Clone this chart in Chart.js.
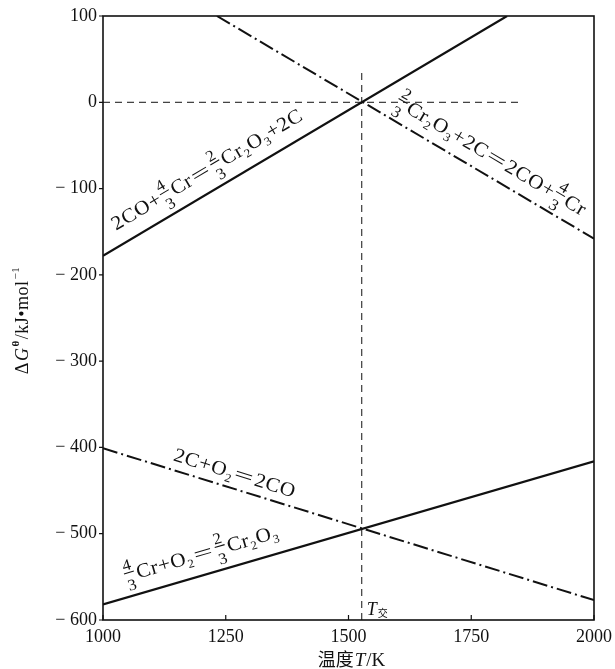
<!DOCTYPE html>
<html>
<head>
<meta charset="utf-8">
<script src="https://cdn.jsdelivr.net/npm/chart.js@4"></script>
<style>
  html, body { margin: 0; padding: 0; background: #fff; }
  canvas { display: block; }
</style>
</head>
<body>
<canvas id="gibbsChart" width="615" height="669"></canvas>
<script>
// axis ticks
const xTicks = [1000, 1250, 1500, 1750, 2000];
const yTicks = [-600, -500, -400, -300, -200, -100, 0, 100];

// 2CO + 4/3Cr = 2/3Cr2O3 + 2C
const coCrT = [1000, 1823];
const coCrG = [-178, 100];
// 2/3Cr2O3 + 2C = 2CO + 4/3Cr
const oxCT = [1232, 2000];
const oxCG = [100, -158];
// 2C + O2 = 2CO
const coT = [1000, 2000];
const coG = [-401, -577];
// 4/3Cr + O2 = 2/3Cr2O3
const crT = [1000, 2000];
const crG = [-582, -416];
// guide lines through the crossing point
const zeroT = [1000, 1849];
const zeroG = [0, 0];
const crossT = [1527, 1527];
const crossG = [-600, 35];

const SERIF = '"Liberation Serif", "DejaVu Serif", serif';
const CJK = '"Noto Sans CJK SC", sans-serif';
const INK = '#111';

const pts = (xs, ys) => xs.map((x, i) => ({ x: x, y: ys[i] }));

function lineSet(xs, ys, dash, width) {
  return {
    data: pts(xs, ys),
    borderColor: INK,
    borderWidth: width,
    borderDash: dash,
    pointRadius: 0,
    fill: false,
    tension: 0
  };
}

// equation labels laid along their lines
const eqLabels = [
  { t: coCrT, g: coCrG, at: 1042, off: 15,
    parts: ['2CO+', { f: ['4', '3'] }, 'Cr', '=', { f: ['2', '3'] }, 'Cr', { s: '2' }, 'O', { s: '3' }, '+2C'] },
  { t: oxCT, g: oxCG, at: 1578, off: 13,
    parts: [{ f: ['2', '3'] }, 'Cr', { s: '2' }, 'O', { s: '3' }, '+2C', '=', '2CO+', { f: ['4', '3'] }, 'Cr'] },
  { t: coT, g: coG, at: 1136, off: 9,
    parts: ['2C+O', { s: '2' }, '=', '2CO'] },
  { t: crT, g: crG, at: 1054, off: 15,
    parts: [{ f: ['4', '3'] }, 'Cr+O', { s: '2' }, '=', { f: ['2', '3'] }, 'Cr', { s: '2' }, 'O', { s: '3' }] }
];

function drawRich(ctx, parts, size) {
  let cx = 0;
  const fs = Math.round(size * 0.8);
  const ss = Math.round(size * 0.62);
  ctx.scale(1.07, 1);
  ctx.letterSpacing = '0.6px';
  parts.forEach(p => {
    if (p === '=') {
      ctx.font = size + 'px ' + SERIF;
      const w = ctx.measureText('=').width;
      ctx.save();
      ctx.translate(cx + 1, 0);
      ctx.scale(1.6, 1);
      ctx.fillText('=', 0, 0);
      ctx.restore();
      cx += w * 1.6 + 2;
    } else if (typeof p === 'string') {
      ctx.font = size + 'px ' + SERIF;
      ctx.fillText(p, cx, 0);
      cx += ctx.measureText(p).width;
    } else if (p.s) {
      ctx.font = ss + 'px ' + SERIF;
      ctx.fillText(p.s, cx, size * 0.22);
      cx += ctx.measureText(p.s).width;
    } else if (p.f) {
      ctx.font = fs + 'px ' + SERIF;
      cx += 1;
      const w = Math.max(ctx.measureText(p.f[0]).width, ctx.measureText(p.f[1]).width) + 1;
      ctx.textAlign = 'center';
      ctx.fillText(p.f[0], cx + w / 2, -size * 0.55);
      ctx.fillText(p.f[1], cx + w / 2, size * 0.48);
      ctx.textAlign = 'left';
      ctx.lineWidth = 1.1;
      ctx.beginPath();
      ctx.moveTo(cx, -size * 0.42);
      ctx.lineTo(cx + w, -size * 0.42);
      ctx.stroke();
      cx += w + 2;
    }
  });
  ctx.letterSpacing = '0px';
}

const overlay = {
  id: 'overlay',
  afterDatasetsDraw(chart) {
    const ctx = chart.ctx;
    const a = chart.chartArea;
    const x = chart.scales.x;
    const y = chart.scales.y;
    ctx.save();
    ctx.strokeStyle = INK;
    ctx.fillStyle = INK;

    // frame
    ctx.lineWidth = 1.6;
    ctx.strokeRect(a.left, a.top, a.right - a.left, a.bottom - a.top);

    // tick marks: inward on x, outward on y
    ctx.lineWidth = 1.2;
    ctx.beginPath();
    xTicks.forEach(v => {
      const px = x.getPixelForValue(v);
      ctx.moveTo(px, a.bottom);
      ctx.lineTo(px, a.bottom - 5);
    });
    yTicks.forEach(v => {
      const py = y.getPixelForValue(v);
      ctx.moveTo(a.left - 4, py);
      ctx.lineTo(a.left, py);
    });
    ctx.stroke();

    // equation labels
    ctx.textBaseline = 'alphabetic';
    eqLabels.forEach(L => {
      const gAt = L.g[0] + (L.at - L.t[0]) * (L.g[1] - L.g[0]) / (L.t[1] - L.t[0]);
      const ang = Math.atan2(
        y.getPixelForValue(L.g[1]) - y.getPixelForValue(L.g[0]),
        x.getPixelForValue(L.t[1]) - x.getPixelForValue(L.t[0]));
      ctx.save();
      ctx.translate(x.getPixelForValue(L.at), y.getPixelForValue(gAt));
      ctx.rotate(ang);
      ctx.translate(0, -L.off);
      drawRich(ctx, L.parts, 20);
      ctx.restore();
    });

    // T cross label
    const tx = x.getPixelForValue(crossT[0]);
    ctx.font = 'italic 18px ' + SERIF;
    ctx.fillText('T', tx + 5, a.bottom - 5);
    ctx.font = '10px ' + CJK;
    ctx.fillText('交', tx + 16, a.bottom - 3);

    // axis titles
    ctx.textAlign = 'left';
    const xt = [['温度', '18px ' + CJK], ['T', 'italic 19px ' + SERIF], ['/K', '19px ' + SERIF]];
    let tw = 0;
    xt.forEach(p => { ctx.font = p[1]; tw += ctx.measureText(p[0]).width + 1; });
    let cx = 352 - tw / 2;
    xt.forEach(p => {
      ctx.font = p[1];
      ctx.fillText(p[0], cx, 666);
      cx += ctx.measureText(p[0]).width + 1;
    });

    ctx.save();
    ctx.translate(28, 320);
    ctx.rotate(-Math.PI / 2);
    ctx.letterSpacing = '0.5px';
    const yt = [['Δ', '18px ' + SERIF, 0], ['G', 'italic 18px ' + SERIF, 0], ['θ', 'bold 11px ' + SERIF, -9],
                ['/kJ•mol', '18px ' + SERIF, 0], ['−1', '11px ' + SERIF, -9]];
    tw = 0;
    yt.forEach(p => { ctx.font = p[1]; tw += ctx.measureText(p[0]).width + 1; });
    cx = -tw / 2;
    yt.forEach(p => {
      ctx.font = p[1];
      ctx.fillText(p[0], cx, p[2]);
      cx += ctx.measureText(p[0]).width + 1;
    });
    ctx.restore();

    ctx.restore();
  }
};

new Chart(document.getElementById('gibbsChart'), {
  type: 'line',
  data: {
    datasets: [
      lineSet(coCrT, coCrG, [], 2.2),
      lineSet(oxCT, oxCG, [15, 4, 2, 4], 2),
      lineSet(coT, coG, [15, 4, 2, 4], 2),
      lineSet(crT, crG, [], 2.2),
      lineSet(zeroT, zeroG, [7, 5], 1),
      lineSet(crossT, crossG, [7, 5], 1)
    ]
  },
  options: {
    responsive: false,
    animation: false,
    devicePixelRatio: 1,
    layout: { padding: { top: 16, right: 21, left: 0, bottom: 0 } },
    plugins: { legend: { display: false }, tooltip: { enabled: false } },
    scales: {
      x: {
        type: 'linear',
        min: 1000,
        max: 2000,
        afterBuildTicks: s => { s.ticks = xTicks.map(v => ({ value: v })); },
        afterFit: s => { s.height = 49; s.paddingLeft = 0; s.paddingRight = 0; },
        grid: { display: false, drawTicks: false },
        border: { display: false },
        ticks: {
          padding: 6,
          maxRotation: 0,
          color: INK,
          font: { family: SERIF, size: 18 },
          callback: v => String(v)
        }
      },
      y: {
        type: 'linear',
        min: -600,
        max: 100,
        afterBuildTicks: s => { s.ticks = yTicks.map(v => ({ value: v })); },
        afterFit: s => { s.width = 103; s.paddingTop = 0; s.paddingBottom = 0; },
        grid: { display: false, drawTicks: false },
        border: { display: false },
        ticks: {
          padding: 6,
          color: INK,
          font: { family: SERIF, size: 18 },
          callback: v => (v < 0 ? '\u2212 ' + Math.abs(v) : String(v))
        }
      }
    }
  },
  plugins: [overlay]
});
</script>
</body>
</html>
